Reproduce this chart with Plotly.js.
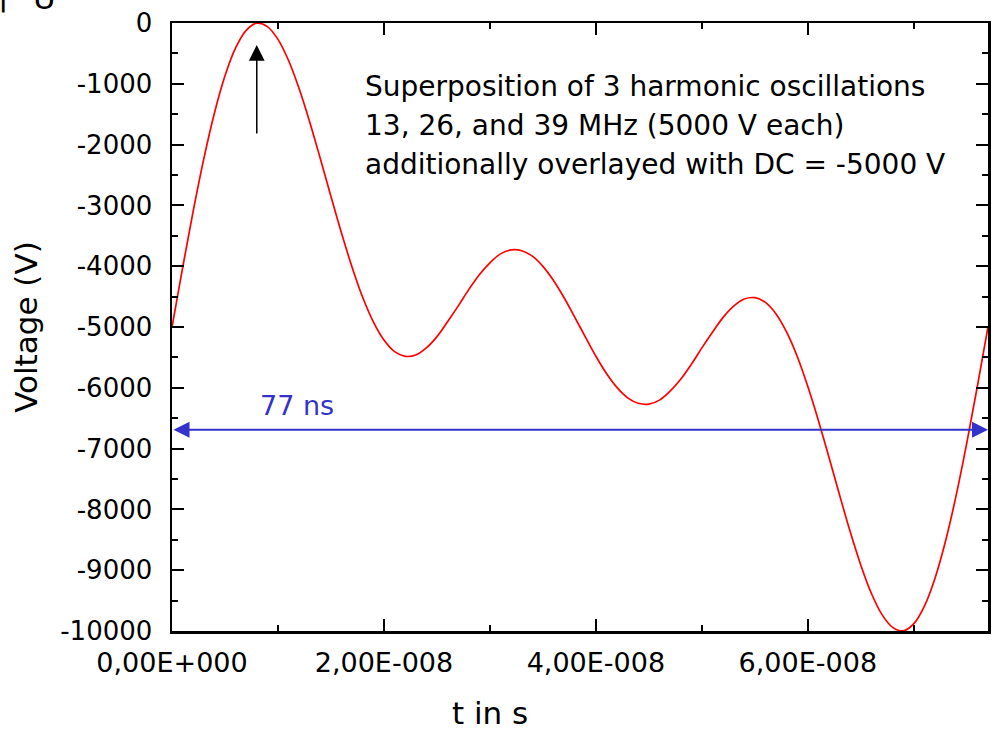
<!DOCTYPE html>
<html>
<head>
<meta charset="utf-8">
<script src="https://cdn.plot.ly/plotly-3.0.1.min.js"></script>
<style>
  html, body { margin: 0; padding: 0; background: #ffffff; }
  #chart { width: 992px; height: 729px; }
</style>
</head>
<body>
<div id="chart"></div>
<script>
// ---- data ----
// time in nanoseconds
const timeNs = [0, 1, 2, 3, 4, 5, 6, 7, 8, 9, 10, 11, 12, 13, 14, 15, 16, 17, 18, 19,
  20, 21, 22, 23, 24, 25, 26, 27, 28, 29, 30, 31, 32, 33, 34, 35, 36, 37, 38, 39,
  40, 41, 42, 43, 44, 45, 46, 47, 48, 49, 50, 51, 52, 53, 54, 55, 56, 57, 58, 59,
  60, 61, 62, 63, 64, 65, 66, 67, 68, 69, 70, 71, 72, 73, 74, 75, 76, 77];
// voltage in V
const voltage = [-5000, -4027, -3093, -2234, -1484, -869, -410, -120, -2, -59,
  -269, -617, -1082, -1631, -2233, -2854, -3459, -4020, -4515, -4915,
  -5215, -5405, -5482, -5461, -5344, -5158, -4913, -4657, -4385, -4140,
  -3944, -3797, -3732, -3745, -3835, -4002, -4235, -4519, -4837, -5163,
  -5481, -5765, -5998, -6165, -6255, -6268, -6203, -6056, -5860, -5615,
  -5343, -5087, -4842, -4656, -4539, -4518, -4595, -4785, -5085, -5485,
  -5980, -6541, -7146, -7767, -8369, -8918, -9383, -9731, -9941, -9998,
  -9880, -9590, -9131, -8516, -7766, -6907, -5973, -5000];

const xTickValues = [0, 2e-8, 4e-8, 6e-8];
const xTickLabels = ["0,00E+000", "2,00E-008", "4,00E-008", "6,00E-008"];
const yTickValues = [0, -1000, -2000, -3000, -4000, -5000, -6000, -7000, -8000, -9000, -10000];
const yTickLabels = ["0", "-1000", "-2000", "-3000", "-4000", "-5000", "-6000", "-7000", "-8000", "-9000", "-10000"];

const periodNs = [77];            // span of the blue double arrow (ns)
const periodArrowVoltage = [-6690];
const peakArrowNs = [8];          // black arrow position (ns)
const peakArrowFrom = [-1842];
const peakArrowTo = [-362];

const noteLines = [
  "Superposition of 3 harmonic oscillations",
  "13, 26, and 39 MHz (5000 V each)",
  "additionally overlayed with DC = -5000 V"
];

// ---- build chart ----
const timeS = timeNs.map(t => t * 1e-9);
const FONT = "DejaVu Sans";

const trace = {
  x: timeS,
  y: voltage,
  type: "scatter",
  mode: "lines",
  line: { color: "#ff0000", width: 1.7, shape: "spline", smoothing: 1 },
  hoverinfo: "skip",
  showlegend: false
};

const axisCommon = {
  showline: true,
  linecolor: "#000000",
  linewidth: 2.5,
  mirror: "allticks",
  ticks: "inside",
  ticklen: 12,
  tickwidth: 2,
  tickcolor: "#000000",
  showgrid: false,
  zeroline: false,
  tickmode: "array"
};

const notePaperX = (363 - 172) / 816;
const noteLineY = [86, 125, 164];
const toPaperY = py => 1 - (py - 23) / 608;

const annotations = [
  {
    x: periodNs[0] * 1e-9, y: periodArrowVoltage[0], xref: "x", yref: "y",
    ax: 0, ay: periodArrowVoltage[0], axref: "x", ayref: "y",
    text: "", showarrow: true, arrowhead: 2, arrowside: "end+start",
    arrowsize: 1.6, arrowwidth: 2, arrowcolor: "#3333cc", standoff: 0, startstandoff: 0
  },
  {
    x: (297 - 172) / 816, y: toPaperY(405), xref: "paper", yref: "paper",
    text: "77 ns", showarrow: false, xanchor: "center", yanchor: "middle",
    font: { family: FONT, size: 27, color: "#3333cc" }
  },
  {
    x: peakArrowNs[0] * 1e-9, y: peakArrowTo[0], xref: "x", yref: "y",
    ax: peakArrowNs[0] * 1e-9, ay: peakArrowFrom[0], axref: "x", ayref: "y",
    text: "", showarrow: true, arrowhead: 2, arrowsize: 2.1, arrowwidth: 1.5,
    arrowcolor: "#000000", standoff: 0
  },
  {
    x: (490 - 172) / 816, y: toPaperY(713), xref: "paper", yref: "paper",
    text: "t in s", showarrow: false, xanchor: "center", yanchor: "middle",
    font: { family: FONT, size: 31, color: "#000000" }
  },
  {
    x: (3 - 172) / 816, y: 1, xref: "paper", yref: "paper", yshift: 8,
    text: "|", showarrow: false, xanchor: "center", yanchor: "bottom",
    font: { family: FONT, size: 31, color: "#000000" }
  },
  {
    x: (44 - 172) / 816, y: 1, xref: "paper", yref: "paper", yshift: 5,
    text: "U", showarrow: false, xanchor: "center", yanchor: "bottom",
    font: { family: FONT, size: 31, color: "#000000" }
  }
];

noteLines.forEach((line, i) => {
  annotations.push({
    x: notePaperX, y: toPaperY(noteLineY[i]), xref: "paper", yref: "paper",
    text: line, showarrow: false, xanchor: "left", yanchor: "middle", align: "left",
    font: { family: FONT, size: 28, color: "#000000" }
  });
});

const layout = {
  width: 992,
  height: 729,
  margin: { l: 172, r: 4, t: 23, b: 98 },
  paper_bgcolor: "#ffffff",
  plot_bgcolor: "#ffffff",
  font: { family: FONT, color: "#000000" },
  showlegend: false,
  xaxis: Object.assign({}, axisCommon, {
    range: [0, 7.7e-8],
    tickvals: xTickValues,
    ticktext: xTickLabels,
    tickfont: { family: FONT, size: 27, color: "#000000" },
    ticklabelstandoff: 6,
    minor: { tickmode: "linear", tick0: 0, dtick: 1e-8, ticks: "inside", ticklen: 6, tickwidth: 2, tickcolor: "#000000" }
  }),
  yaxis: Object.assign({}, axisCommon, {
    range: [-10000, 0],
    tickvals: yTickValues,
    ticktext: yTickLabels,
    tickfont: { family: FONT, size: 26, color: "#000000" },
    ticklabelstandoff: 12,
    title: { text: "Voltage (V)", font: { family: FONT, size: 31, color: "#000000" }, standoff: 14 },
    minor: { tickmode: "linear", tick0: 0, dtick: 500, ticks: "inside", ticklen: 6, tickwidth: 2, tickcolor: "#000000" }
  }),
  annotations: annotations
};

Plotly.newPlot("chart", [trace], layout, { staticPlot: true, displayModeBar: false });
</script>
</body>
</html>
